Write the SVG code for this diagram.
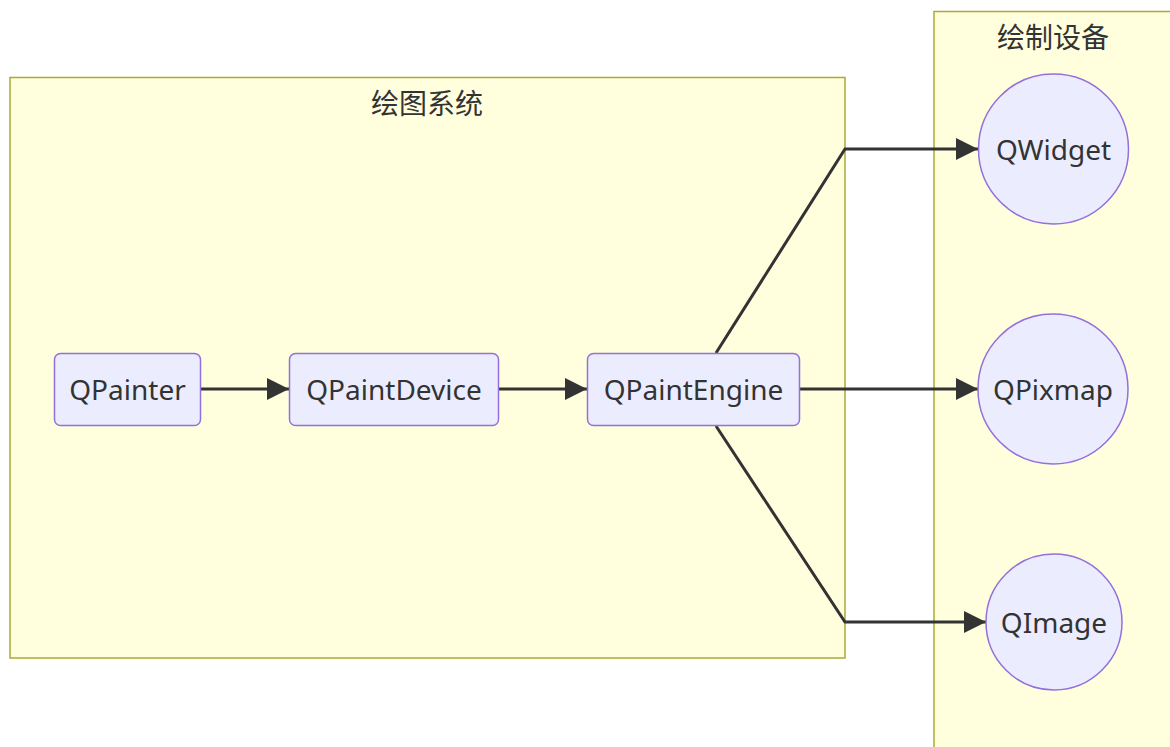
<svg xmlns="http://www.w3.org/2000/svg" width="1170" height="747" viewBox="0 0 1170 747">
  <style>
    .cluster { fill: #ffffde; stroke: #aaaa33; stroke-width: 1.5; }
    .node { fill: #ececff; stroke: #9370db; stroke-width: 1.5; }
    .label { font-family: "Noto Sans", "Noto Sans CJK SC", sans-serif; font-size: 28px; fill: #333333; text-anchor: middle; dominant-baseline: central; }
    .title { font-family: "Noto Sans CJK SC", sans-serif; font-size: 28px; fill: #333333; text-anchor: middle; dominant-baseline: central; }
    .edge { fill: none; stroke: #333333; stroke-width: 3; }
  </style>
  <defs>
    <marker id="arrow" viewBox="0 0 10 10" refX="10" refY="5" markerUnits="userSpaceOnUse" markerWidth="22" markerHeight="22" orient="auto">
      <path d="M0,0 L10,5 L0,10 z" fill="#333333"/>
    </marker>
  </defs>

  <rect width="1170" height="747" fill="#ffffff"/>

  <!-- subgraph: drawing system -->
  <g id="cluster-system">
    <rect class="cluster" x="10" y="77.5" width="835" height="580.5"/>
    <text class="title" x="427" y="102">绘图系统</text>
  </g>

  <!-- subgraph: paint devices -->
  <g id="cluster-devices">
    <rect class="cluster" x="934" y="11.5" width="240" height="740"/>
    <text class="title" x="1053" y="36">绘制设备</text>
  </g>

  <!-- connectors -->
  <g id="edges">
    <path class="edge" d="M200,389 L289,389" marker-end="url(#arrow)"/>
    <path class="edge" d="M499,389 L587,389" marker-end="url(#arrow)"/>
    <path class="edge" d="M716,353 L845,149 L978,149" marker-end="url(#arrow)"/>
    <path class="edge" d="M800,389 L978,389" marker-end="url(#arrow)"/>
    <path class="edge" d="M716,426 L845,622 L986,622" marker-end="url(#arrow)"/>
  </g>

  <g id="node-qpainter">
    <rect class="node" x="54.5" y="353.5" width="146" height="72" rx="6"/>
    <text class="label" x="127.5" y="389">QPainter</text>
  </g>
  <g id="node-qpaintdevice">
    <rect class="node" x="289.5" y="353.5" width="209" height="72" rx="6"/>
    <text class="label" x="394" y="389">QPaintDevice</text>
  </g>
  <g id="node-qpaintengine">
    <rect class="node" x="587.5" y="353.5" width="212" height="72" rx="6"/>
    <text class="label" x="693.5" y="389">QPaintEngine</text>
  </g>
  <g id="node-qwidget">
    <circle class="node" cx="1053.5" cy="149" r="75"/>
    <text class="label" x="1053.5" y="149">QWidget</text>
  </g>
  <g id="node-qpixmap">
    <circle class="node" cx="1053" cy="389" r="75"/>
    <text class="label" x="1053" y="389">QPixmap</text>
  </g>
  <g id="node-qimage">
    <circle class="node" cx="1054" cy="622" r="68"/>
    <text class="label" x="1054" y="622">QImage</text>
  </g>
</svg>
